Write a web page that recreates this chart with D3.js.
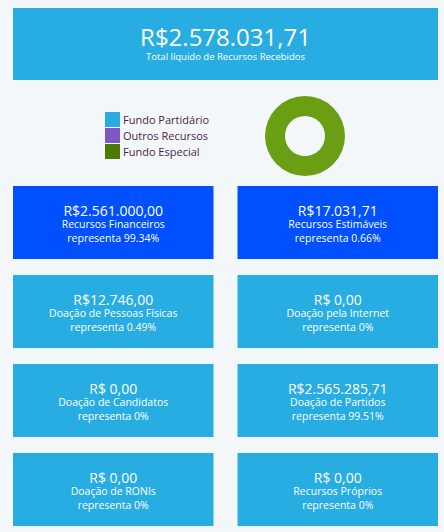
<!DOCTYPE html>
<html>
<head>
<meta charset="utf-8">
<script src="https://cdn.jsdelivr.net/npm/d3@7"></script>
<style>
  body { margin: 0; background: #f4f7fa; }
  svg { display: block; font-family: "Open Sans", "Noto Sans", sans-serif; }
</style>
</head>
<body>
<div id="chart"></div>
<script>
// Totals
const totalValue = "R$2.578.031,71";
const totalLabel = "Total líquido de Recursos Recebidos";

// Donut: origem dos recursos
const fundCategories = ["Fundo Partidário", "Outros Recursos", "Fundo Especial"];
const fundValues = [0, 0, 2578031.71];
const fundColors = ["#29abe2", "#7e57c2", "#4a7a00"];

// Cards
const cardValues = ["R$2.561.000,00", "R$17.031,71", "R$12.746,00", "R$ 0,00",
                    "R$ 0,00", "R$2.565.285,71", "R$ 0,00", "R$ 0,00"];
const cardLabels = ["Recursos Financeiros", "Recursos Estimáveis", "Doação de Pessoas Físicas",
                    "Doação pela Internet", "Doação de Candidatos", "Doação de Partidos",
                    "Doação de RONIs", "Recursos Próprios"];
const cardShares = ["99.34%", "0.66%", "0.49%", "0%", "0%", "99.51%", "0%", "0%"];

const W = 444, H = 532;
const lightBlue = "#28ade3", darkBlue = "#0050ff";

const svg = d3.select("#chart").append("svg")
    .attr("width", W).attr("height", H);

// Header box
svg.append("rect")
    .attr("x", 13).attr("y", 8).attr("width", 425).attr("height", 72)
    .attr("fill", lightBlue);
svg.append("text")
    .attr("x", 225.5).attr("y", 46)
    .attr("text-anchor", "middle").attr("fill", "#fff")
    .attr("font-size", 24).text(totalValue);
svg.append("text")
    .attr("x", 225.5).attr("y", 60)
    .attr("text-anchor", "middle").attr("fill", "#fff")
    .attr("font-size", 9.5).text(totalLabel);

// Legend
const legend = svg.append("g").attr("transform", "translate(105,112)");
const row = legend.selectAll("g").data(fundCategories).join("g")
    .attr("transform", (d, i) => `translate(0,${i * 16})`);
row.append("rect")
    .attr("width", 15).attr("height", 15)
    .attr("fill", (d, i) => fundColors[i]);
row.append("text")
    .attr("x", 18).attr("y", 12)
    .attr("font-size", 11).attr("fill", "#4a1f4a")
    .text(d => d);

// Donut
const pie = d3.pie().sort(null);
const arc = d3.arc().innerRadius(20).outerRadius(40);
const donutColor = d3.scaleOrdinal().domain(fundCategories)
    .range(["#29abe2", "#7e57c2", "#6a9e13"]);
svg.append("g")
    .attr("transform", "translate(305,136)")
    .selectAll("path")
    .data(pie(fundValues))
    .join("path")
    .attr("d", arc)
    .attr("fill", (d, i) => donutColor(fundCategories[i]));

// Cards grid
const col = d3.scaleBand().domain([0, 1]).range([13, 438]).paddingInner(0.107);
const rowY = d3.scaleLinear().domain([0, 1]).range([186, 275]);
const cards = svg.selectAll("g.card").data(cardValues).join("g")
    .attr("class", "card")
    .attr("transform", (d, i) => `translate(${col(i % 2)},${rowY(Math.floor(i / 2))})`);
cards.append("rect")
    .attr("width", col.bandwidth()).attr("height", 73)
    .attr("fill", (d, i) => i < 2 ? darkBlue : lightBlue);
cards.append("text")
    .attr("x", col.bandwidth() / 2).attr("y", 29.5)
    .attr("text-anchor", "middle").attr("fill", "#fff")
    .attr("font-size", 14).text(d => d);
cards.append("text")
    .attr("x", col.bandwidth() / 2).attr("y", 42)
    .attr("text-anchor", "middle").attr("fill", "#fff")
    .attr("font-size", 10.5).text((d, i) => cardLabels[i]);
cards.append("text")
    .attr("x", col.bandwidth() / 2).attr("y", 56)
    .attr("text-anchor", "middle").attr("fill", "#fff")
    .attr("font-size", 10.5).text((d, i) => "representa " + cardShares[i]);
</script>
</body>
</html>
